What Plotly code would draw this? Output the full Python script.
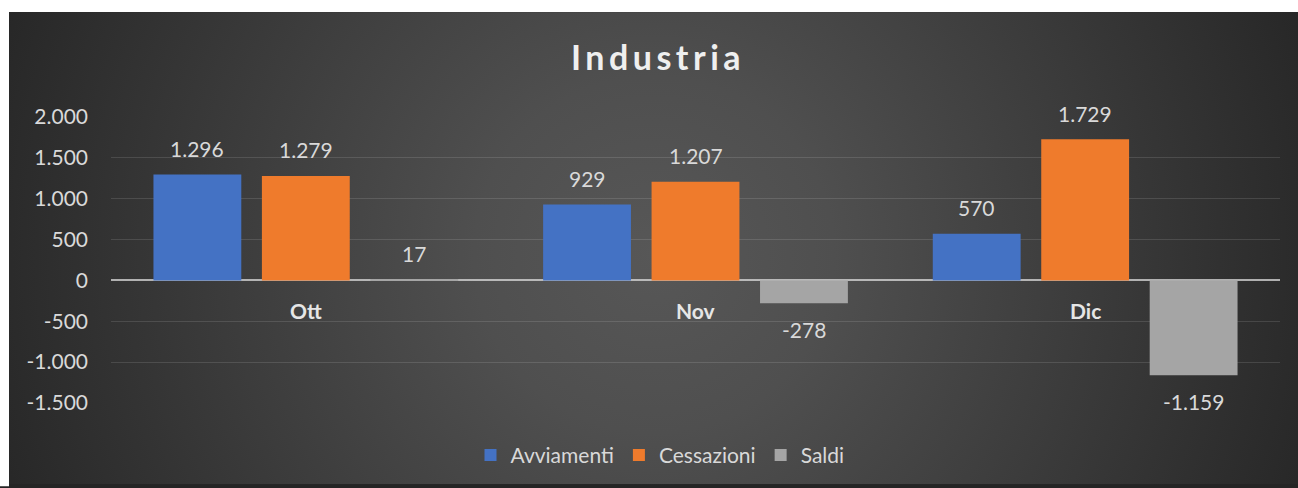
import base64
import plotly.graph_objects as go

categories = ["Ott", "Nov", "Dic"]
avviamenti = [1296, 929, 570]
cessazioni = [1279, 1207, 1729]
saldi = [17, -278, -1159]
series_names = ["Avviamenti", "Cessazioni", "Saldi"]
tick_values = [-1500, -1000, -500, 0, 500, 1000, 1500, 2000]
title_text = "Industria"

colors = ["#4472c4", "#ef7b2c", "#a5a5a5"]

W, H = 1298, 488
ML, MT = 111, 117
MR = W - 1280
MB = H - 406
PW, PH = W - ML - MR, H - MT - MB
EDGE = "#252525"


def fmt(v):
    s = f"{abs(v):,}".replace(",", ".")
    return ("-" if v < 0 else "") + s


def px_to_paper_x(px):
    return (px - ML) / PW


def px_to_paper_y(py):
    return (H - MB - py) / PH


# Dark radial-gradient background panel (page coordinates)
bx0, by0, bx1, by1 = 9, 11, 1298, 488
bw, bh = bx1 - bx0, by1 - by0
svg = (
    f'<svg xmlns="http://www.w3.org/2000/svg" width="{bw}" height="{bh}">'
    f'<defs><radialGradient id="g" gradientUnits="userSpaceOnUse" cx="645" cy="245" r="720">'
    '<stop offset="0" stop-color="#575757"/>'
    '<stop offset="0.25" stop-color="#4f4f4f"/>'
    f'<stop offset="1" stop-color="{EDGE}"/>'
    '</radialGradient></defs>'
    f'<rect width="{bw}" height="{bh}" fill="url(#g)"/></svg>'
)
src = "data:image/svg+xml;base64," + base64.b64encode(svg.encode()).decode()

fig = go.Figure()
all_series = [avviamenti, cessazioni, saldi]
for name, vals, col in zip(series_names, all_series, colors):
    fig.add_trace(go.Bar(
        x=categories, y=vals, name=name,
        marker=dict(color=col, line=dict(width=0)),
        cliponaxis=False, hoverinfo="skip",
    ))

font_family = "Lato, 'Open Sans', sans-serif"
label_color = "#d9d9d9"
fsize = 21

annotations = []
slot = PW / len(categories) * (1 - 0.165) / 3
for i, vals in enumerate(all_series):
    for c, v in zip(categories, vals):
        annotations.append(dict(
            x=c, y=v, xref="x", yref="y", text=fmt(v), showarrow=False,
            xshift=(i - 1) * slot, yshift=26 if v >= 0 else -26,
            yanchor="middle", font=dict(family=font_family, size=fsize, color=label_color),
        ))
for c in categories:
    annotations.append(dict(
        x=c, y=0, xref="x", yref="y", text=f"<b>{c}</b>", showarrow=False,
        yshift=-30, yanchor="middle",
        font=dict(family=font_family, size=fsize, color="#e6e6e6"),
    ))

# white page strips above and left of the dark panel
shapes = [
    dict(type="rect", xref="paper", yref="paper", layer="below", line=dict(width=0),
         fillcolor="white",
         x0=px_to_paper_x(-2), x1=px_to_paper_x(W + 2),
         y0=px_to_paper_y(by0), y1=px_to_paper_y(-2)),
    dict(type="rect", xref="paper", yref="paper", layer="below", line=dict(width=0),
         fillcolor="white",
         x0=px_to_paper_x(-2), x1=px_to_paper_x(bx0),
         y0=px_to_paper_y(H + 2), y1=px_to_paper_y(-2)),
]

fig.update_layout(
    width=W, height=H,
    margin=dict(l=ML, r=MR, t=MT, b=MB, pad=0),
    paper_bgcolor=EDGE, plot_bgcolor="rgba(0,0,0,0)",
    barmode="group", bargap=0.165, bargroupgap=0.19,
    title=dict(
        text=f'<b><span style="letter-spacing:4.5px">{title_text}</span></b>',
        x=658 / W, xref="container", xanchor="center",
        y=1 - 58 / H, yref="container", yanchor="middle",
        font=dict(family=font_family, size=34, color="#efefef"),
    ),
    xaxis=dict(showticklabels=False, showgrid=False, zeroline=False, showline=False, ticks=""),
    yaxis=dict(
        range=[-1500, 2000], tickvals=tick_values, ticktext=[fmt(v) for v in tick_values],
        showgrid=True, gridcolor="rgba(255,255,255,0.12)", gridwidth=1,
        zeroline=True, zerolinecolor="rgba(220,220,220,0.75)", zerolinewidth=2,
        showline=False, ticks="", ticklabelstandoff=22,
        tickfont=dict(family=font_family, size=fsize, color=label_color),
    ),
    legend=dict(
        orientation="h", x=px_to_paper_x(660), xanchor="center",
        y=px_to_paper_y(459), yanchor="middle",
        font=dict(family=font_family, size=fsize, color=label_color),
        bgcolor="rgba(0,0,0,0)", itemwidth=30, traceorder="normal",
    ),
    images=[dict(
        source=src, xref="paper", yref="paper",
        x=px_to_paper_x(bx0), y=px_to_paper_y(by0),
        sizex=bw / PW, sizey=bh / PH, sizing="stretch",
        xanchor="left", yanchor="top", layer="below",
    )],
    shapes=shapes,
    annotations=annotations,
    showlegend=True,
)

fig.write_html(
    "out.html",
    config={"displayModeBar": False},
    post_script="document.body.style.margin='0';document.body.style.overflow='hidden';"
                "document.documentElement.style.overflow='hidden';"
                f"document.body.style.background='{EDGE}';",
)
